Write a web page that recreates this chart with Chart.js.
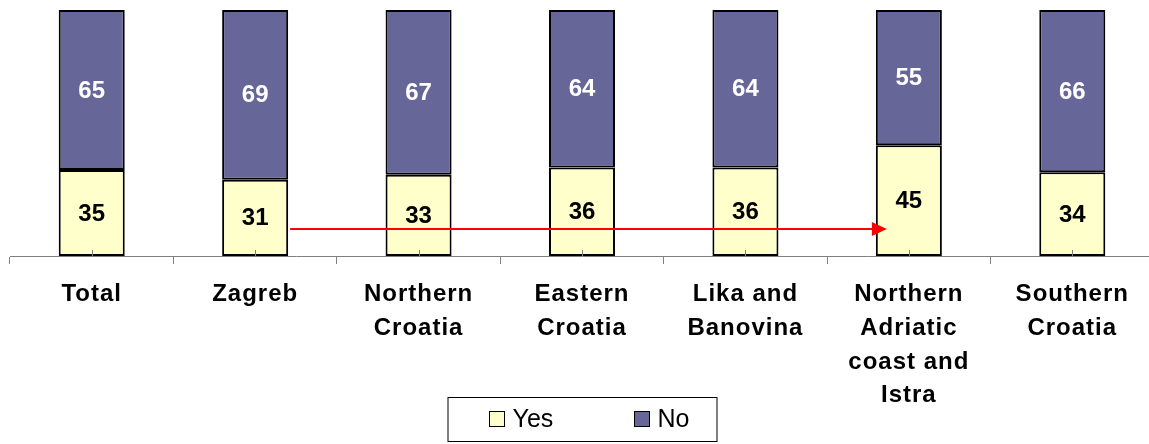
<!DOCTYPE html>
<html>
<head>
<meta charset="utf-8">
<script src="https://cdn.jsdelivr.net/npm/chart.js@4/dist/chart.umd.min.js"></script>
<style>
  html, body { margin: 0; padding: 0; background: #fff; overflow: hidden; }
  #wrap { position: relative; width: 1165px; height: 444px; }
</style>
</head>
<body>
<div id="wrap"><canvas id="myChart"></canvas></div>
<script>
var regions = ["Total", "Zagreb", ["Northern", "Croatia"], ["Eastern", "Croatia"], ["Lika and", "Banovina"],
  ["Northern", "Adriatic", "coast and", "Istra"], ["Southern", "Croatia"]];
var yesValues = [35, 31, 33, 36, 36, 45, 34];
var noValues = [65, 69, 67, 64, 64, 55, 66];
var barColors = ["#FFFFCC", "#666699"];
var labelColors = ["#000000", "#FFFFFF"];

var FONT = "'Liberation Sans', Arial, sans-serif";

// axis labels get a little letter spacing, the rest of the text none
var spacing = {
  id: "spacing",
  beforeDraw: function (chart) { chart.ctx.letterSpacing = "1px"; },
  beforeDatasetsDraw: function (chart) { chart.ctx.letterSpacing = "0px"; }
};

// numbers inside each segment
var segmentLabels = {
  id: "segmentLabels",
  afterDatasetsDraw: function (chart) {
    var ctx = chart.ctx;
    ctx.save();
    ctx.font = "bold 24px " + FONT;
    ctx.textAlign = "center";
    ctx.textBaseline = "middle";
    chart.data.datasets.forEach(function (ds, i) {
      chart.getDatasetMeta(i).data.forEach(function (bar, j) {
        var p = bar.getProps(["x", "y", "base"], true);
        ctx.fillStyle = labelColors[i];
        ctx.fillText(ds.data[j], p.x, (p.y + p.base) / 2 + 1);
      });
    });
    ctx.restore();
  }
};

// small ticks under the bars, red arrow and framed legend
var extras = {
  id: "extras",
  afterDraw: function (chart) {
    var ctx = chart.ctx;
    var xs = chart.scales.x, ys = chart.scales.y;
    var bottom = chart.chartArea.bottom;
    ctx.save();
    ctx.strokeStyle = "#808080";
    ctx.lineWidth = 1;
    for (var i = 0; i < regions.length; i++) {
      var cx = Math.round(xs.getPixelForValue(i)) + 0.5;
      ctx.beginPath();
      ctx.moveTo(cx, bottom);
      ctx.lineTo(cx, bottom - 6);
      ctx.stroke();
    }

    // arrow from Zagreb over to the Northern Adriatic bar
    var ay = ys.getPixelForValue(11);
    var x0 = xs.getPixelForValue(1) + 35;
    var x1 = xs.getPixelForValue(5) - 22;
    ctx.strokeStyle = "#FF0000";
    ctx.fillStyle = "#FF0000";
    ctx.lineWidth = 2;
    ctx.beginPath();
    ctx.moveTo(x0, ay);
    ctx.lineTo(x1 - 12, ay);
    ctx.stroke();
    ctx.beginPath();
    ctx.moveTo(x1, ay);
    ctx.lineTo(x1 - 15, ay - 7);
    ctx.lineTo(x1 - 15, ay + 7);
    ctx.closePath();
    ctx.fill();

    // legend
    var mid = chart.width / 2;
    var top = 397;
    ctx.fillStyle = "#FFFFFF";
    ctx.strokeStyle = "#000000";
    ctx.lineWidth = 1;
    ctx.fillRect(mid - 134.5, top, 269, 44);
    ctx.strokeRect(mid - 134.5, top + 0.5, 269, 44);
    ctx.font = "25px " + FONT;
    ctx.textBaseline = "middle";
    ctx.textAlign = "left";
    var offs = [-93.5, 51.5];
    chart.data.datasets.forEach(function (ds, k) {
      var bx = Math.round(mid + offs[k]) + 0.5;
      ctx.fillStyle = ds.backgroundColor;
      ctx.fillRect(bx, 411.5, 15, 15);
      ctx.strokeStyle = "#000000";
      ctx.strokeRect(bx, 411.5, 15, 15);
      ctx.fillStyle = "#000000";
      ctx.fillText(ds.label, bx + 23, 420);
    });
    ctx.restore();
  }
};

new Chart("myChart", {
  type: "bar",
  data: {
    labels: regions,
    datasets: [{
      label: "Yes",
      data: yesValues,
      backgroundColor: barColors[0],
      borderColor: "#000000",
      borderWidth: 2,
      borderSkipped: false
    }, {
      label: "No",
      data: noValues,
      backgroundColor: barColors[1],
      borderColor: "#000000",
      borderWidth: 2,
      borderSkipped: false
    }]
  },
  options: {
    responsive: true,
    maintainAspectRatio: false,
    animation: false,
    datasets: { bar: { barPercentage: 0.404, categoryPercentage: 1 } },
    layout: { padding: { left: 10, right: 11, top: 10, bottom: 0 } },
    plugins: {
      legend: { display: false },
      tooltip: { enabled: false }
    },
    scales: {
      x: {
        stacked: true,
        afterFit: function (scale) { scale.height = 188; },
        grid: { display: true, drawOnChartArea: false, drawTicks: true, tickLength: 8, color: "#808080", offset: true },
        border: { display: true, color: "#808080", width: 1 },
        ticks: {
          color: "#000000",
          padding: 14,
          maxRotation: 0,
          autoSkip: false,
          font: { family: FONT, size: 24, weight: "bold", lineHeight: 1.4 }
        }
      },
      y: {
        stacked: true,
        display: false,
        min: 0,
        max: 100
      }
    }
  },
  plugins: [spacing, segmentLabels, extras]
});
</script>
</body>
</html>
